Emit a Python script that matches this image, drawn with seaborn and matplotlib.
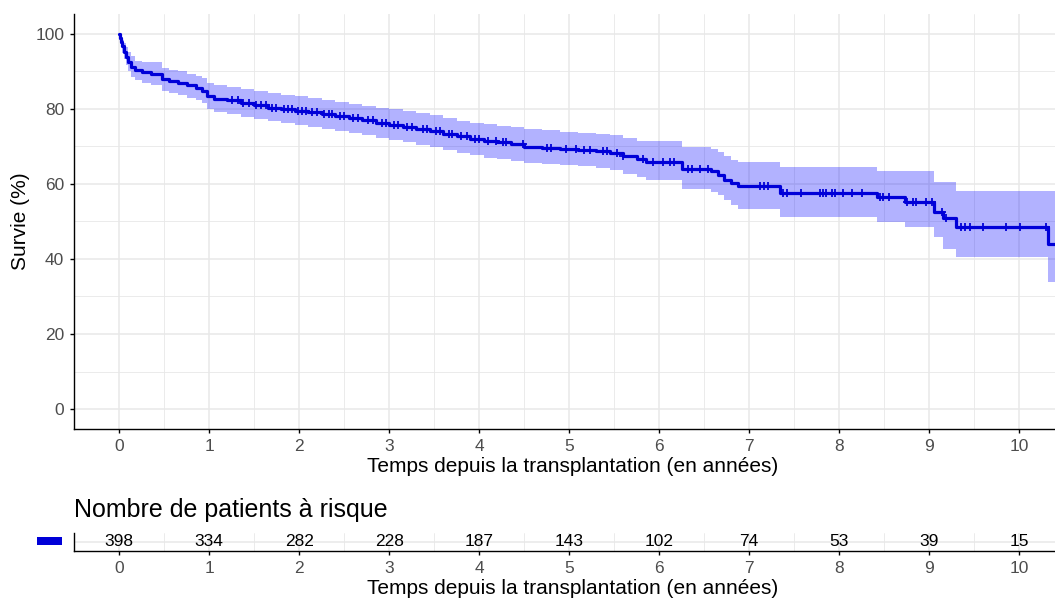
import numpy as np
import pandas as pd
import seaborn as sns
import matplotlib.pyplot as plt
from matplotlib.patches import Rectangle
from matplotlib.ticker import MultipleLocator

# Kaplan-Meier estimate (step values after each event)
event_time = [0.00, 0.01, 0.02, 0.03, 0.05, 0.07, 0.10, 0.13, 0.17, 0.25,
              0.35, 0.47, 0.55, 0.65, 0.75, 0.85, 0.92, 0.98, 1.05, 1.20,
              1.35, 1.50, 1.65, 1.80, 1.95, 2.10, 2.25, 2.40, 2.55, 2.70,
              2.85, 3.00, 3.15, 3.30, 3.45, 3.60, 3.75, 3.90, 4.05, 4.20,
              4.35, 4.50, 4.70, 4.90, 5.10, 5.30, 5.45, 5.60, 5.75, 5.85,
              6.25, 6.58, 6.65, 6.72, 6.80, 6.88, 7.34, 8.42, 8.73, 9.06,
              9.15, 9.30, 10.32, 10.40]
surv = [100.0, 98.8, 97.8, 96.6, 95.2, 93.8, 92.4, 91.2, 90.2, 89.8,
        89.3, 87.8, 87.4, 86.8, 86.2, 85.6, 84.8, 83.3, 82.7, 82.2,
        81.5, 80.9, 80.3, 79.9, 79.5, 79.1, 78.6, 78.1, 77.6, 76.9,
        76.2, 75.6, 75.1, 74.6, 74.0, 73.3, 72.6, 71.9, 71.3, 71.0,
        70.5, 69.9, 69.5, 69.3, 69.1, 68.8, 68.3, 67.4, 66.5, 65.8,
        63.9, 63.3, 62.3, 61.1, 60.1, 59.3, 57.6, 56.4, 55.1, 52.5,
        50.8, 48.5, 44.0, 44.0]
ci_low = [100.0, 97.7, 96.3, 94.8, 93.1, 91.5, 89.9, 88.5, 87.5, 86.9,
          86.3, 84.8, 84.2, 83.6, 82.9, 82.3, 81.4, 79.9, 79.2, 78.7,
          77.9, 77.2, 76.6, 76.1, 75.7, 75.2, 74.6, 74.1, 73.6, 72.9,
          72.2, 71.6, 71.0, 70.4, 69.8, 69.0, 68.3, 67.6, 66.9, 66.6,
          66.0, 65.5, 65.2, 64.9, 64.6, 64.2, 63.6, 62.7, 61.8, 60.9,
          58.7, 57.9, 56.9, 55.6, 54.4, 53.3, 51.1, 49.8, 48.4, 45.8,
          42.7, 40.4, 33.8, 33.8]
ci_high = [100.0, 99.9, 99.3, 98.4, 97.4, 96.3, 95.0, 94.0, 92.7, 92.5,
           92.3, 90.8, 90.4, 89.9, 89.3, 88.8, 88.1, 86.8, 86.2, 85.8,
           85.2, 84.6, 84.1, 83.7, 83.3, 82.9, 82.3, 81.8, 81.3, 80.8,
           80.3, 79.9, 79.3, 78.8, 78.2, 77.4, 76.8, 76.2, 75.8, 75.5,
           75.0, 74.6, 74.2, 73.9, 73.6, 73.3, 72.9, 72.2, 71.5, 71.5,
           69.8, 69.2, 68.4, 67.3, 66.4, 65.8, 64.4, 63.5, 63.5, 60.4,
           60.4, 58.2, 58.2, 58.2]

# censored observations (+ marks)
censor_time = [1.25, 1.32, 1.38, 1.44, 1.52, 1.58, 1.63, 1.70, 1.74, 1.83,
               1.88, 1.92, 1.99, 2.03, 2.08, 2.14, 2.20, 2.28, 2.33, 2.37,
               2.45, 2.50, 2.60, 2.65, 2.77, 2.82, 2.92, 2.97, 3.05, 3.10,
               3.20, 3.25, 3.38, 3.42, 3.52, 3.57, 3.66, 3.70, 3.80, 3.86,
               3.95, 4.00, 4.10, 4.19, 4.27, 4.30, 4.49, 4.75, 4.80, 4.97,
               5.08, 5.16, 5.23, 5.38, 5.42, 5.53, 5.60, 5.82, 5.93, 6.04,
               6.12, 6.17, 6.32, 6.36, 6.45, 6.54, 7.12, 7.17, 7.21, 7.38,
               7.42, 7.58, 7.79, 7.82, 7.86, 7.92, 7.95, 8.04, 8.14, 8.25,
               8.45, 8.49, 8.56, 8.75, 8.82, 8.86, 8.97, 9.03, 9.14, 9.19,
               9.36, 9.40, 9.45, 9.60, 9.86, 10.01, 10.30]

# number at risk table
risk_time = [0, 1, 2, 3, 4, 5, 6, 7, 8, 9, 10]
risk_n = [398, 334, 282, 228, 187, 143, 102, 74, 53, 39, 15]

x_label = "Temps depuis la transplantation (en années)"
line_col = "#0000D8"
grid_col = "#E8E8E8"
tick_col = "#4D4D4D"

km = pd.DataFrame({"time": event_time, "surv": surv, "low": ci_low, "high": ci_high})
idx = np.searchsorted(event_time, censor_time, side="right") - 1
cens = pd.DataFrame({"time": censor_time, "surv": np.array(surv)[idx]})
risk = pd.DataFrame({"time": risk_time, "n": risk_n})

sns.set_theme(style="white")
plt.rcParams["font.family"] = ["Liberation Sans", "DejaVu Sans"]

fig = plt.figure(figsize=(10.55, 6), dpi=100)
W, H = 1055, 600
ax = fig.add_axes([74 / W, 1 - 429 / H, 1 - 74 / W, (429 - 14) / H])
tbl = fig.add_axes([74 / W, 1 - 551 / H, 1 - 74 / W, 18.5 / H])


def style_axis(a):
    a.set_xlim(-0.503, 10.4)
    a.xaxis.set_major_locator(MultipleLocator(1))
    a.xaxis.set_minor_locator(MultipleLocator(0.5))
    a.grid(which="major", color=grid_col, lw=1.1)
    a.grid(which="minor", color=grid_col, lw=0.6)
    a.set_axisbelow(True)
    for s in ["top", "right"]:
        a.spines[s].set_visible(False)
    for s in ["left", "bottom"]:
        a.spines[s].set_color("black")
        a.spines[s].set_linewidth(1.0)
    a.tick_params(which="major", length=3, width=1, color="black",
                  labelsize=12.5, labelcolor=tick_col, pad=4,
                  bottom=True, left=True)
    a.tick_params(which="minor", length=0)
    a.set_xlabel(x_label, fontsize=15, color="black", labelpad=2)
    # the original plot was cropped on the right, so the title sits a bit right of centre
    a.xaxis.label.set_x(0.508)


# survival curve with confidence band
style_axis(ax)
ax.fill_between(km["time"], km["low"], km["high"], step="post",
                color="#0000FF", alpha=0.3, lw=0)
sns.lineplot(data=km, x="time", y="surv", ax=ax, color=line_col,
             lw=2.3, drawstyle="steps-post", estimator=None)
sns.scatterplot(data=cens, x="time", y="surv", ax=ax, marker="+",
                color=line_col, s=28, linewidth=1.3, zorder=3)
ax.set_ylim(-5.3, 105.2)
ax.yaxis.set_major_locator(MultipleLocator(20))
ax.yaxis.set_minor_locator(MultipleLocator(10))
ax.set_ylabel("Survie (%)", fontsize=15, color="black", labelpad=4)

# risk table
style_axis(tbl)
tbl.set_ylim(0, 1)
tbl.set_yticks([0.5])
tbl.set_yticklabels([])
tbl.tick_params(axis="y", length=0)
tbl.yaxis.set_minor_locator(plt.NullLocator())
for t, n in zip(risk["time"], risk["n"]):
    tbl.text(t, 0.5, str(n), ha="center", va="center", fontsize=12.5,
             color="black")
fig.add_artist(Rectangle((37 / W, 1 - 545 / H), 25 / W, 8 / H,
                         transform=fig.transFigure, color=line_col, lw=0))
fig.text(74 / W, 1 - 510 / H, "Nombre de patients à risque", fontsize=18,
         ha="left", va="center", color="black")

fig.savefig("out.png", dpi=100)
